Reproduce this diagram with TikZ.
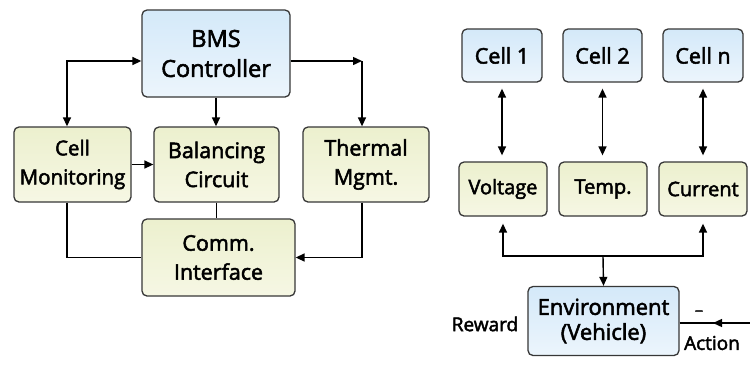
\documentclass[tikz,border=0pt]{standalone}
\usepackage{fontspec}
\setmainfont{Open Sans}[FakeBold=2.4]
\usetikzlibrary{arrows.meta, positioning, calc}
\definecolor{cBlueTop}{RGB}{212,233,249}
\definecolor{cBlueBot}{RGB}{236,245,252}
\definecolor{cYelTop}{RGB}{236,240,206}
\definecolor{cYelBot}{RGB}{246,247,228}
\definecolor{cEdge}{RGB}{55,55,55}
\tikzset{
	ctrlbox/.style={rectangle, rounded corners=5pt, draw=cEdge, line width=1.3pt, align=center, top color=cBlueTop, bottom color=cBlueBot, inner sep=2pt},
	subbox/.style ={rectangle, rounded corners=5pt, draw=cEdge, line width=1.3pt, align=center, top color=cYelTop, bottom color=cYelBot, inner sep=2pt},
	wire/.style   ={line width=1.4pt, black},
	sig/.style    ={-{Triangle[length=9pt, width=8pt]}, line width=1.4pt, black},
	dsig/.style   ={{Triangle[length=9pt, width=8pt]}-{Triangle[length=9pt, width=8pt]}, line width=1.4pt, black},
}
\begin{document}
\begin{tikzpicture}[x=1pt, y=-1pt]
	\useasboundingbox[fill=white] (0,0) rectangle (750,365);
	% BMS architecture
	\node[ctrlbox, minimum width=148pt, minimum height=87pt, font=\fontsize{23.5}{30}\selectfont] (bms) at (216,53.5) {BMS\\Controller};
	\node[subbox, minimum width=117pt, minimum height=75pt, font=\fontsize{20.5}{29}\selectfont] (mon) at (72.5,164.5) {Cell\\Monitoring};
	\node[subbox, minimum width=125pt, minimum height=75pt, font=\fontsize{21.5}{29}\selectfont] (bal) at (216.5,164.5) {Balancing\\Circuit};
	\node[subbox, minimum width=126pt, minimum height=75pt, font=\fontsize{21.5}{29}\selectfont] (thm) at (366,164.5) {Thermal\\Mgmt.};
	\node[subbox, minimum width=153pt, minimum height=77pt, font=\fontsize{21.5}{29}\selectfont] (comm) at (218.5,257.5) {Comm.\\Interface};
	\coordinate (tc) at (362,61);
	\draw[dsig] ([xshift=-5.5pt]mon.north) |- ([yshift=-7.5pt]bms.west);
	\draw[sig] ([yshift=-7.5pt]bms.east) -- (tc);
	\draw[sig] (tc) -- (tc |- thm.north);
	\draw[sig] (bms.south) -- (bms.south |- bal.north);
	\draw[sig] (mon.east) -- (bal.west);
	\draw[wire] (bal.south) -- (bal.south |- comm.north);
	\draw[wire] ([xshift=-5.5pt]mon.south) |- (comm.west);
	\draw[sig] (tc |- thm.south) |- (comm.east);
	% cells, sensors and environment
	\node[ctrlbox, minimum width=80pt, minimum height=53pt, font=\fontsize{21.5}{26}\selectfont] (c1) at (502,55.5) {Cell 1};
	\node[ctrlbox, minimum width=79pt, minimum height=53pt, font=\fontsize{21.5}{26}\selectfont] (c2) at (602.5,55.5) {Cell 2};
	\node[ctrlbox, minimum width=80pt, minimum height=53pt, font=\fontsize{21.5}{26}\selectfont] (cn) at (703,55.5) {Cell n};
	\node[subbox, minimum width=88pt, minimum height=54pt, font=\fontsize{20}{26}\selectfont] (volt) at (503,189) {Voltage};
	\node[subbox, minimum width=88pt, minimum height=54pt, font=\fontsize{20}{26}\selectfont] (temp) at (603,189) {Temp.};
	\node[subbox, minimum width=88pt, minimum height=54pt, font=\fontsize{20}{26}\selectfont] (curr) at (703,189) {Current};
	\node[ctrlbox, minimum width=151pt, minimum height=69pt, font=\fontsize{22}{25}\selectfont] (env) at (603.5,321) {Environment\\(Vehicle)};
	\foreach \a/\b in {c1/volt, c2/temp, cn/curr}
		\draw[dsig, shorten <=6pt, shorten >=6pt] (\a.south) -- (\a.south |- \b.north);
	\coordinate (bus) at (603,256);
	\draw[sig] (bus) -- (env.north);
	\draw[sig, shorten >=7pt] (bus) -| (volt.south);
	\draw[sig, shorten >=7pt] (bus) -| (curr.south);
	\coordinate (act) at (750,323);
	\coordinate (am) at (713,323);
	\draw[wire] (env.east |- act) -- (act);
	\draw[sig] (act) -- (am);
	\node[font=\fontsize{19}{24}\selectfont] (rwd) at (485,324) {Reward};
	\node[font=\fontsize{19}{24}\selectfont] (actlbl) at (712,343) {Action};
	\node[font=\fontsize{16}{16}\selectfont] (minus) at (699,313) {\textendash};
\end{tikzpicture}
\end{document}
